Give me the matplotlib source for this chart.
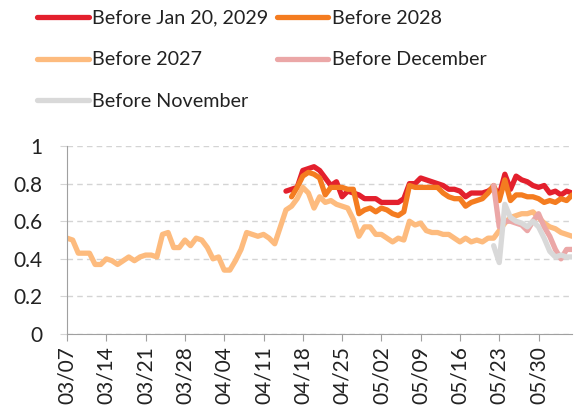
import matplotlib
matplotlib.use("Agg")
import matplotlib.pyplot as plt
import matplotlib.dates as mdates
import pandas as pd

plt.rcParams['font.family'] = ['Lato', 'DejaVu Sans']

# daily odds, each series starting at its own date
start_2027 = '2025-03-07'
before_2027 = [0.51, 0.50, 0.43, 0.43, 0.43, 0.37, 0.37, 0.40, 0.39, 0.37,
               0.39, 0.41, 0.39, 0.41, 0.42, 0.42, 0.41, 0.53, 0.54, 0.46,
               0.46, 0.50, 0.47, 0.51, 0.50, 0.46, 0.40, 0.41, 0.34, 0.34,
               0.39, 0.45, 0.54, 0.53, 0.52, 0.53, 0.51, 0.48, 0.57, 0.66,
               0.68, 0.72, 0.78, 0.75, 0.67, 0.73, 0.70, 0.71, 0.69, 0.68,
               0.67, 0.61, 0.52, 0.57, 0.57, 0.53, 0.53, 0.51, 0.49, 0.51,
               0.50, 0.60, 0.58, 0.59, 0.55, 0.54, 0.54, 0.53, 0.53, 0.51,
               0.49, 0.51, 0.49, 0.50, 0.49, 0.51, 0.51, 0.55, 0.59, 0.62,
               0.63, 0.64, 0.64, 0.65, 0.62, 0.59, 0.57, 0.56, 0.54, 0.53,
               0.52]

start_2029 = '2025-04-15'
before_jan2029 = [0.76, 0.77, 0.78, 0.87, 0.88, 0.89, 0.87, 0.83, 0.79, 0.81,
                  0.73, 0.76, 0.75, 0.74, 0.72, 0.72, 0.72, 0.70, 0.70, 0.70,
                  0.70, 0.72, 0.80, 0.80, 0.83, 0.82, 0.81, 0.80, 0.79, 0.77,
                  0.77, 0.76, 0.73, 0.75, 0.75, 0.75, 0.76, 0.78, 0.74, 0.85,
                  0.77, 0.84, 0.82, 0.81, 0.79, 0.78, 0.79, 0.75, 0.76, 0.74,
                  0.76, 0.75]

start_2028 = '2025-04-16'
before_2028 = [0.73, 0.78, 0.84, 0.86, 0.85, 0.83, 0.74, 0.78, 0.78, 0.78,
               0.77, 0.77, 0.64, 0.66, 0.67, 0.65, 0.67, 0.66, 0.64, 0.63,
               0.65, 0.79, 0.78, 0.78, 0.78, 0.78, 0.78, 0.75, 0.73, 0.72,
               0.72, 0.68, 0.70, 0.71, 0.72, 0.75, 0.79, 0.71, 0.82, 0.71,
               0.74, 0.74, 0.73, 0.73, 0.72, 0.70, 0.71, 0.70, 0.72, 0.71,
               0.74]

start_late = '2025-05-22'
before_dec = [0.79, 0.57, 0.60, 0.60, 0.59, 0.58, 0.55, 0.60, 0.64, 0.57,
              0.52, 0.45, 0.40, 0.45, 0.45]
before_nov = [0.47, 0.38, 0.69, 0.62, 0.60, 0.59, 0.57, 0.60, 0.57, 0.51,
              0.44, 0.41, 0.42, 0.41, 0.41]

series = [
    ('Before Jan 20, 2029', start_2029, before_jan2029, '#E3202D'),
    ('Before 2028', start_2028, before_2028, '#F47C20'),
    ('Before 2027', start_2027, before_2027, '#FDBB7E'),
    ('Before December', start_late, before_dec, '#EBA7A7'),
    ('Before November', start_late, before_nov, '#D9D9D9'),
]

fig = plt.figure(figsize=(5.78, 4.16), dpi=100)
ax = fig.add_axes([0.116, 0.197, 0.874, 0.452])

lines = {}
for label, start, vals, color in series:
    x = pd.date_range(start, periods=len(vals), freq='D')
    lines[label], = ax.plot(x, vals, color=color, lw=3.8, label=label,
                            solid_capstyle='round', solid_joinstyle='round')

ax.set_ylim(0, 1)
ax.set_yticks([0, 0.2, 0.4, 0.6, 0.8, 1])
ax.set_yticklabels(['0', '0.2', '0.4', '0.6', '0.8', '1'])
ax.set_xlim(pd.Timestamp('2025-03-07'), pd.Timestamp('2025-06-05'))
ax.set_xticks(pd.date_range('2025-03-07', '2025-05-30', freq='7D'))
ax.xaxis.set_major_formatter(mdates.DateFormatter('%m/%d'))

ax.grid(axis='y', color='#D4D4D4', ls=(0, (4, 3)), lw=1)
ax.set_axisbelow(True)
for s in ['top', 'right']:
    ax.spines[s].set_visible(False)
for s in ['left', 'bottom']:
    ax.spines[s].set_color('#A0A0A0')
ax.tick_params(axis='x', rotation=90, length=5, color='#A0A0A0',
               labelsize=15, labelcolor='#222222', pad=4)
ax.tick_params(axis='y', length=5, color='#D4D4D4', labelsize=15,
               labelcolor='#222222', pad=13)

# legend is filled row by row in the reference
order = ['Before Jan 20, 2029', 'Before 2027', 'Before November',
         'Before 2028', 'Before December']
fig.legend([lines[k] for k in order], order, loc='upper left',
           bbox_to_anchor=(0.044, 1.005), ncol=2,
           frameon=False, fontsize=14.2, handlelength=2.6, handletextpad=0.2,
           columnspacing=0.4, labelspacing=1.25, borderpad=0.1,
           labelcolor='#222222')

fig.savefig('out.png', dpi=100)
